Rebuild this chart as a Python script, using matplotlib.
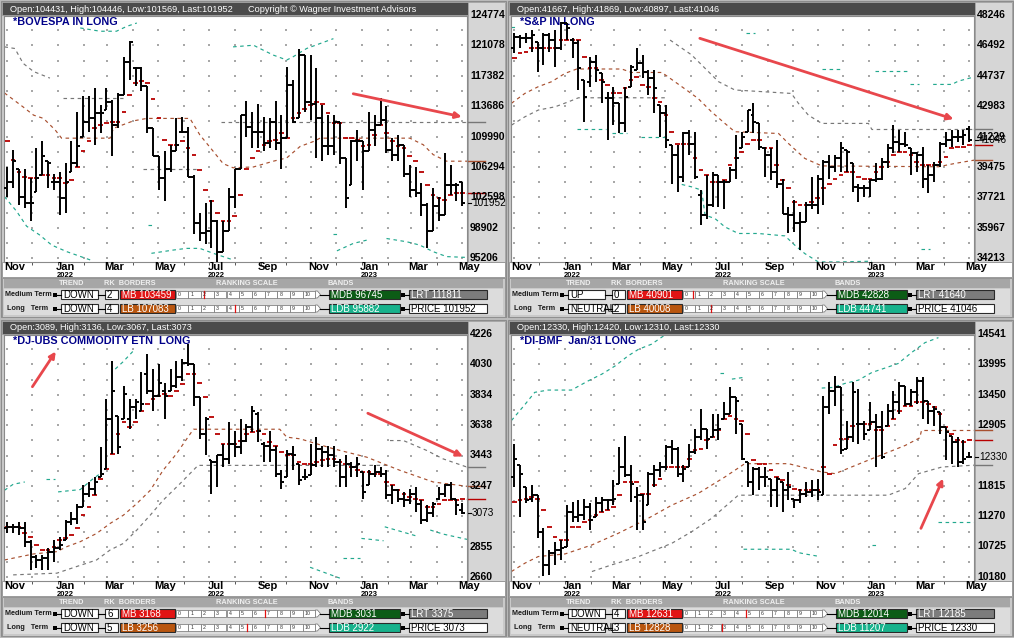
import numpy as np
import pandas as pd
import matplotlib
matplotlib.use("Agg")
import matplotlib.pyplot as plt
import matplotlib.transforms as mtransforms
from matplotlib.patches import Rectangle, Polygon

# semanas: nov/2021 ate mai/2023 (79 barras semanais)
start_week = "2021-11-01"
n_weeks = 79

# ---------------- BOVESPA ----------------
bov_open = [103700,104500,106100,102700,101900,103300,105300,107000,104500,104500,
    102500,105700,106800,110000,111800,112200,112800,113200,114200,111400,
    115100,119100,118300,118300,116100,111000,107600,104900,106100,108200,
    110600,110600,105100,99500,98300,98500,99700,96000,98500,102700,
    106100,112600,111200,110600,110600,109200,111800,109200,109800,116300,
    112200,119900,114200,114000,112200,108800,108800,111800,107400,104100,
    109400,109400,108200,110800,111400,112000,108400,107800,109000,105500,
    103500,103100,101700,98500,101500,100500,104100,104100,104431]
bov_high = [106300,108400,106100,106100,104900,108600,109400,107000,105500,105700,
    106800,109400,113000,114900,114900,115900,113800,115900,114400,115300,
    119700,121600,118500,118500,116100,111000,107600,108200,109000,112200,
    112400,111200,105300,100700,101900,102300,99900,99700,103700,106100,
    112600,114300,113000,114000,112400,112200,114300,112600,118500,116900,
    120700,119900,119900,118300,113800,112600,112600,111800,107400,109600,
    110800,109400,113000,112600,114700,113700,109800,110200,109000,106500,
    106300,104300,101900,103700,102700,108000,106500,104300,104446]
bov_low = [102700,103700,101700,101300,99700,103300,105300,103700,103500,100500,
    100700,105700,106300,110000,110600,109000,110400,113200,107600,111000,
    115100,116900,116100,115500,110400,107600,103500,102100,105700,108200,
    110400,105100,98100,97300,96900,96500,94800,96000,98500,101300,
    106100,110000,108600,108600,108200,108600,108400,106000,109800,111600,
    112200,113000,112000,107400,107000,107800,107800,106600,101300,104100,
    107000,103500,108200,108800,111400,108000,107000,107000,105100,102700,
    102700,100300,96400,98500,99700,100500,102900,102100,101569]
bov_close = [104500,107000,102700,101900,101900,104900,107600,106800,104500,102500,
    104500,106800,108800,111800,112200,112800,112800,114200,111400,115100,
    119100,121500,118300,116100,111000,107600,104900,106100,108200,109000,
    110600,105100,99500,98300,98500,99700,96000,98500,102700,106100,
    112600,111200,110600,110600,109200,111800,109200,109800,116300,111800,
    119900,114200,114000,112200,108800,108800,111800,107400,102500,109400,
    109400,108200,110800,111400,112000,108400,107800,109000,105500,103500,
    103100,101700,98500,101500,100500,104100,104100,104100,101952]
bov_ma = [109400,107200,105700,105100,104900,104900,105300,105300,104900,104900,
    104300,104700,106300,108200,109400,111000,111400,111600,111800,111800,
    113000,115100,116500,116700,116500,114600,112200,109600,109000,109000,
    109400,108600,107800,105900,103500,102100,100700,99700,99700,100300,
    102900,106100,107400,108200,109000,109400,109600,110400,109800,112200,
    112800,113400,113800,114200,114000,112800,111600,111600,109800,109800,
    109600,108800,109000,110200,111400,110400,109400,108800,108600,107600,
    107000,105700,104100,102900,102500,102300,102900,103100,103100]
bov_brown = [([-0.5, 2.7, 4.5, 6.2, 8.2, 9.3, 17.6, 18.2, 21.6, 23.9, 31.3, 33.0, 35.3,
               37.0, 38.7, 42.2, 45.6, 47.9, 50.2, 52.5, 53.6, 69.0, 71.3, 73.0, 75.3, 78.8],
              [115300, 113600, 112600, 112200, 110800, 109800, 109800, 111000, 111900, 112200,
               112200, 110200, 108200, 106700, 106200, 106300, 107000, 107400, 108800, 109400,
               109800, 109800, 109000, 107800, 107000, 107000])]
bov_gray = [([-0.5, 1.3, 2.7, 4.5, 7.3], [120900, 120700, 118900, 117900, 117100]),
            ([9.6, 19.9], [114700, 114700]),
            ([23.3, 32.5], [106100, 106100]),
            ([36.7, 78.8], [111811, 111811])]
bov_cyan = [([12.5, 15.9, 18.7, 20.5, 22.2], [123200, 122800, 122800, 123400, 123800]),
            ([38.7, 42.2, 43.3, 45.6, 47.9, 49.0, 51.3, 53.6, 55.9],
             [120900, 121100, 120700, 119900, 119300, 119700, 120700, 121300, 121900]),
            ([-0.5, 1.6, 3.3, 5.6, 7.6, 10.2, 14.2], [102700, 100900, 99100, 98000, 96800, 96000, 95000]),
            ([24.2, 25.2], [99300, 99300]),
            ([24.7, 28.5, 30.7, 33.0, 35.3, 38.7], [95800, 96200, 96400, 96400, 95800, 95000]),
            ([55.8, 56.8], [98100, 98100]),
            ([56.5, 59.3, 61.6], [96100, 97000, 97400]),
            ([65.0, 68.5, 70.7, 73.0, 75.3, 78.8], [97600, 97200, 96800, 96000, 95400, 95300])]
bov_arrows = [([59.3, 77.9], [115200, 112400])]
bov_yticks = [124774, 121078, 117382, 113686, 109990, 106294, 102598, 98902, 95206]
bov_info = dict(trend=("DOWN", "DOWN"), rank=("2", "4"), border=("MB 103459", "LB 107083"),
                scale=(2.23, 4.67), bands=("MDB 96745", "LDB 95882"), last=("LRT 111811", "PRICE 101952"))

# ---------------- S&P ----------------
spx_open = [46320,46990,46900,46940,46710,46320,47090,46800,46320,47760,
    46800,46610,44490,44400,45550,44880,43430,43430,43150,41990,
    44110,45070,45450,44970,44590,43050,42570,40740,40160,38910,
    41410,40830,37850,36700,37270,39010,38620,38620,39300,40550,
    41510,42470,41990,40550,40160,39200,38520,36790,36700,36220,
    36310,37270,37270,38810,39780,39490,39970,40450,39680,38330,
    38240,38240,38720,38810,39780,40550,40930,40830,40550,40260,
    40160,38810,39010,39580,40830,41030,41220,41220,41667]
spx_high = [47190,47090,47190,47380,46710,47190,47190,47380,47860,47760,
    46900,46800,44490,45840,45940,44880,43820,44110,43150,44110,
    45360,46320,45940,45070,45070,43050,43050,40740,40740,41510,
    41600,41510,38140,39010,39200,39010,38720,39480,41320,41510,
    42760,43150,41990,40640,40550,41030,38810,37180,37560,36890,
    37470,38910,39010,39870,40160,40160,40930,40450,39680,38520,
    38430,38810,39680,39970,40830,41890,41600,41510,40550,40350,
    40640,39580,39780,40930,41510,41600,41600,41600,41869]
spx_low = [46030,46320,46610,46130,44970,45360,46130,45260,46220,46800,
    45740,43920,42090,44110,44400,43150,41030,41890,41410,41510,
    44110,45070,44590,43630,42570,41220,40550,38520,38040,38620,
    40160,38810,36120,36500,37180,37180,37080,38620,38810,40550,
    41510,41410,40450,38910,38720,38240,36790,35640,35730,34670,
    36310,37080,36790,37270,38810,39200,39200,39200,38040,37470,
    37750,37750,38620,38720,39390,40260,40350,40640,39010,39200,
    38240,37950,38620,39490,40640,40640,40930,40740,40897]
spx_close = [46990,46900,46940,47090,46320,47090,46800,46320,47760,47480,
    46610,45170,43530,45550,45070,44400,43430,43150,41990,43530,
    45260,45450,44970,44590,44010,42570,41030,40160,38910,41410,
    40830,38910,36700,37270,39010,38620,38620,39300,39970,41220,
    42760,42090,40640,40160,39200,38520,36790,36700,36220,36310,
    37270,37270,38810,39780,39490,39970,40550,40350,38330,38240,
    38240,38720,38810,39780,40550,40930,40830,40740,40260,40160,
    38810,39010,39580,40830,41030,41220,41220,41320,41046]
spx_ma = [45740,46030,46130,46320,46320,46320,46320,46320,46800,46800,
    46800,46800,45840,45170,45170,44490,44200,43720,43720,44010,
    44490,44680,44200,44110,43430,43240,42470,41510,40830,40830,
    40830,39970,39300,39010,38620,38620,38720,39580,39970,40350,
    40830,41030,41030,40550,40550,39580,38720,38240,37470,37270,
    37270,37470,37660,38240,38520,38810,39010,39200,39200,38910,
    38810,38810,39200,39490,39780,40160,40350,40350,40160,39780,
    39580,39580,39580,39780,40060,40550,40640,40640,40740]
spx_brown = [([-0.5, 1.8, 4.1, 6.4, 8.7, 10.7, 18.4, 20.1, 25.3, 27.5, 29.5, 31.5, 33.8, 36.1,
               37.8, 45.3, 47.0, 49.8, 52.7, 72.7, 75.5, 78.8],
              [43150, 43720, 44110, 44400, 44880, 45130, 45130, 44930, 44930, 44400, 43920,
               43430, 42660, 41990, 41510, 41410, 40830, 39970, 39540, 39490, 39680, 39870])]
spx_gray = [([-0.5, 1.8, 4.1, 7.0, 9.3, 11.0, 25.8], [41890, 42370, 42760, 42950, 43240, 43470, 43470]),
            ([26.7, 30.4, 32.7, 35.0, 37.8, 47.5, 48.7, 50.4, 52.7, 60.7, 61.3, 78.8],
             [46800, 45940, 45170, 44400, 43920, 43720, 43150, 42470, 41990, 41990, 41640, 41640])]
spx_cyan = [([-0.5, 0.3], [47570, 47570]),
            ([39.8, 41.3], [47190, 47190]),
            ([52.7, 56.1], [45130, 45130]),
            ([61.8, 67.5], [45010, 45010]),
            ([67.8, 69.3], [44240, 44240]),
            ([71.8, 75.0, 76.1, 78.8], [44240, 44240, 44430, 44670]),
            ([10.7, 15.8], [41660, 41660]),
            ([16.7, 19.3], [41410, 41410]),
            ([21.8, 25.8], [41220, 41220]),
            ([28.7, 30.4, 32.1, 32.7, 34.4, 36.1, 38.4, 41.8, 46.4, 48.1, 49.8, 52.1, 55.5, 61.3],
             [38470, 38330, 38140, 36700, 36500, 36020, 35640, 35640, 35500, 34960, 34480, 34000, 34000, 34040]),
            ([69.8, 71.3], [34730, 34730])]
spx_arrows = [([31.8, 75.3], [46900, 42240])]
spx_yticks = [48246, 46492, 44737, 42983, 41229, 39475, 37721, 35967, 34213]
spx_info = dict(trend=("UP", "NEUTRAL"), rank=("0", "2"), border=("MB 40901", "LB 40008"),
                scale=(0.83, 2.2), bands=("MDB 42828", "LDB 44741"), last=("LRT 41640", "PRICE 41046"))

# ---------------- DJ-UBS ----------------
dj_open = [2972,2983,2983,2972,2887,2790,2769,2780,2823,2844,
    2897,3015,3036,3111,3197,3229,3304,3357,3678,3700,
    3678,3678,3753,3732,3967,3860,3828,3860,3860,3892,
    3946,4042,4031,3817,3582,3411,3400,3443,3421,3518,
    3496,3539,3625,3711,3520,3507,3475,3325,3304,3454,
    3389,3304,3315,3379,3486,3464,3443,3400,3304,3389,
    3368,3336,3250,3325,3336,3325,3186,3218,3165,3154,
    3197,3133,3026,3069,3160,3197,3250,3165,3089]
dj_high = [3015,3004,3015,3015,2897,2801,2801,2844,2897,2919,
    3026,3079,3133,3250,3272,3304,3496,3806,4052,3700,
    3892,3806,3806,3978,4095,3999,4031,3913,3999,4052,
    4063,4159,4031,3817,3689,3411,3443,3518,3657,3603,
    3678,3646,3764,3721,3528,3603,3507,3347,3475,3507,
    3389,3357,3518,3561,3507,3507,3507,3421,3443,3400,
    3432,3336,3347,3379,3368,3347,3250,3229,3208,3229,
    3240,3154,3122,3143,3240,3261,3272,3165,3136]
dj_low = [2940,2940,2929,2855,2705,2716,2705,2705,2758,2833,
    2897,2994,3004,3111,3175,3186,3304,3357,3454,3454,
    3678,3614,3678,3732,3839,3732,3817,3678,3860,3881,
    3924,4020,3764,3550,3443,3197,3240,3368,3389,3432,
    3454,3528,3593,3528,3400,3400,3304,3229,3304,3347,
    3250,3282,3315,3368,3368,3368,3368,3240,3240,3304,
    3304,3165,3250,3304,3304,3165,3133,3143,3111,3133,
    3079,3004,3015,3047,3154,3175,3154,3058,3067]
dj_close = [2983,2983,2972,2887,2790,2769,2780,2823,2844,2865,
    3015,3036,3111,3197,3229,3272,3325,3678,3860,3496,
    3839,3753,3785,3774,3860,3828,3913,3828,3892,3946,
    4042,4031,3817,3582,3678,3400,3443,3421,3518,3496,
    3539,3625,3732,3603,3507,3475,3325,3272,3454,3443,
    3282,3304,3379,3486,3464,3443,3400,3304,3389,3368,
    3389,3208,3325,3336,3325,3186,3218,3165,3154,3197,
    3133,3026,3069,3133,3197,3250,3165,3122,3073]
dj_ma = [2983,2983,2983,2940,2919,2865,2833,2833,2855,2897,
    2908,2929,2972,3058,3111,3186,3293,3357,3454,3582,
    3657,3625,3657,3732,3774,3806,3828,3839,3828,3860,
    3903,3967,3967,3913,3817,3689,3582,3518,3518,3518,
    3539,3582,3593,3603,3582,3528,3507,3464,3443,3443,
    3400,3389,3389,3400,3411,3421,3421,3400,3389,3368,
    3347,3336,3336,3325,3325,3272,3250,3218,3197,3175,
    3165,3154,3111,3111,3133,3154,3154,3154,3165]
dj_brown = [([-0.5, 4.5, 8.5, 10.2, 12.5, 15.3, 17.6, 19.9, 22.2, 24.5, 26.7, 29.0, 31.9,
              46.7, 47.9, 50.2, 55.9, 61.6, 67.3, 73.0, 78.8],
             [2769, 2808, 2823, 2855, 2887, 2940, 3004, 3058, 3133, 3218, 3347, 3454, 3612,
              3612, 3561, 3550, 3486, 3432, 3347, 3272, 3244])]
dj_gray = [([1.0, 8.5, 11.9, 15.3, 17.6, 19.9, 22.2, 24.5, 26.7, 29.6, 32.7, 65.6],
            [2673, 2684, 2727, 2769, 2833, 2876, 2962, 3058, 3154, 3261, 3379, 3379]),
           ([65.6, 67.9, 71.9, 74.7, 78.8], [3539, 3539, 3475, 3421, 3368])]
dj_cyan = [([-0.5, 1.0, 3.0], [3218, 3257, 3272]),
           ([6.7, 8.2], [3293, 3293]),
           ([8.7, 12.5, 14.7, 15.9], [3208, 3223, 3293, 3325]),
           ([18.5, 19.9, 21.6], [4000, 4049, 4117]),
           ([51.9, 57.0], [2722, 2652]),
           ([57.6, 60.5], [2780, 2780]),
           ([60.7, 64.5], [2908, 2893]),
           ([64.7, 70.2], [2983, 2923]),
           ([72.5, 74.7, 78.8], [2962, 2936, 2902])]
dj_arrows = [([4.3, 8.3], [3886, 4113]), ([61.8, 78.1], [3715, 3437])]
dj_yticks = [4226, 4030, 3834, 3638, 3443, 3247, 2855, 2660]
dj_info = dict(trend=("DOWN", "DOWN"), rank=("6", "5"), border=("MB 3168", "LB 3256"),
               scale=(7.03, 5.59), bands=("MDB 3031", "LDB 2922"), last=("LRT 3375", "PRICE 3073"))

# ---------------- DI-BMF ----------------
di_open = [11973,12182,11795,11586,11646,10990,10395,10603,10663,10722,
    11348,11259,11288,11437,11259,11497,11556,11556,11854,12152,
    12003,11616,11646,11467,12033,12093,12152,12510,12480,12033,
    12152,12420,12688,12837,12688,12808,13016,13105,13403,12927,
    12242,11884,12122,11973,11944,11735,11884,11735,11586,11556,
    11676,11705,11735,11646,13225,13523,13582,12480,12688,12927,
    12927,12808,12957,12867,12897,13165,13314,13612,13284,13493,
    13701,13344,13165,13135,12867,12718,12599,12242,12330]
di_high = [12569,12182,11795,11825,11646,11050,10663,10812,10841,11467,
    11527,11556,11586,11497,11616,11616,11586,11914,12510,12718,
    12182,11795,11676,12063,12182,12242,12539,12629,12510,12182,
    12569,12837,13195,12837,13105,13105,13314,13582,13403,12927,
    12242,12152,12152,12152,11944,11973,11884,12063,11586,11765,
    11884,11914,11944,13433,13672,13791,13582,12986,13672,13552,
    12986,13314,13105,13165,13284,13523,13672,13612,13552,13761,
    13761,13344,13254,13135,12867,12718,12688,12629,12420]
di_low = [11795,11259,11497,11527,10871,10186,10216,10395,10484,10722,
    11169,11169,11199,11020,11259,11348,11378,11467,11854,11973,
    11527,11020,11020,11467,11795,11973,12093,12212,11973,11884,
    12152,12391,12629,12480,12688,12629,13016,13105,12748,12271,
    11795,11646,11735,11795,11437,11437,11348,11556,11407,11497,
    11616,11616,11556,11646,13105,13254,12391,12480,12599,12569,
    12629,12808,12152,12301,12897,13016,13105,13254,13254,13284,
    13016,12927,12897,12748,12271,12212,12152,12212,12310]
di_close = [12301,12033,11556,11646,10990,10395,10603,10663,10693,11348,
    11259,11288,11437,11199,11497,11556,11556,11586,12152,12003,
    11854,11646,11169,12033,12093,12152,12510,12480,12033,12122,
    12420,12688,12837,12659,12808,12837,13105,13403,13344,12301,
    11884,12122,11973,11973,11735,11944,11735,11795,11556,11676,
    11705,11735,11705,13225,13523,13582,12450,12688,13493,12927,
    12748,12957,12867,12331,13165,13314,13612,13284,13493,13701,
    13344,13165,13195,12867,12778,12599,12242,12301,12330]
di_ma = [11527,11556,11586,11616,11586,11378,11080,10901,10841,10841,
    11080,11080,11169,11199,11288,11348,11378,11437,11646,11884,
    11884,11884,11676,11676,11825,11944,12152,12152,12152,12152,
    12301,12450,12480,12629,12688,12808,13016,13076,13016,12986,
    12748,12271,12212,12212,12093,11973,11914,11825,11765,11735,
    11735,11735,11735,12152,12033,12539,12659,12659,12897,12927,
    12927,12927,12808,12808,12897,13016,13165,13254,13254,13314,
    13314,13284,13225,13105,12867,12748,12629,12599,12629]
di_brown = [([-0.5, 1.8, 4.1, 8.7, 13.3, 17.8, 22.4, 27.0, 31.5, 36.1, 39.5, 47.0, 52.7, 55.0,
              61.3, 67.0, 69.5, 69.8, 78.8],
             [10275, 10424, 10544, 10591, 10752, 10961, 11199, 11467, 11676, 11973, 12212, 12212,
              12063, 12033, 12301, 12539, 12676, 12808, 12808])]
di_gray = [([13.3, 16.7, 21.3, 27.0, 30.4, 33.8, 36.1, 38.4, 64.1, 67.0, 69.3, 73.3, 78.8],
            [10275, 10395, 10544, 10782, 10990, 11229, 11437, 11646, 11646, 11765, 12033, 12152, 12185])]
di_cyan = [([-0.5, 0.7, 1.8, 3.5, 5.8, 9.8, 12.7, 15.0, 17.3, 19.5, 21.3, 23.5, 26.4],
            [12986, 13135, 13272, 13493, 13534, 13534, 13701, 13820, 13969, 14148, 14267, 14357, 14565]),
           ([35.3, 36.3], [13832, 13832]),
           ([37.3, 39.3], [13731, 13761]),
           ([52.7, 54.7, 56.7, 59.0, 61.3, 63.5, 65.8, 68.1, 70.4, 72.7],
            [13570, 13582, 13654, 13713, 13850, 13928, 14011, 14208, 14386, 14476]),
           ([39.3, 47.5, 48.7, 49.8, 52.4], [10675, 10675, 10615, 10591, 10544]),
           ([61.3, 62.3], [10752, 10752]),
           ([72.7, 78.8], [11157, 11157])]
di_arrows = [([69.7, 73.5], [11050, 11944])]
di_yticks = [14541, 13995, 13450, 12905, 11815, 11270, 10725, 10180]
di_info = dict(trend=("DOWN", "NEUTRAL"), rank=("4", "3"), border=("MB 12631", "LB 12828"),
               scale=(4.96, 3.07), bands=("MDB 12014", "LDB 11207"), last=("LRT 12185", "PRICE 12330"))

panels = [
    dict(ox=0, oy=0, title="*BOVESPA IN LONG", header="Open:104431, High:104446, Low:101569, Last:101952",
         o=bov_open, h=bov_high, l=bov_low, c=bov_close, ma=bov_ma, brown=bov_brown, gray=bov_gray,
         cyan=bov_cyan, arrows=bov_arrows, yticks=bov_yticks, info=bov_info),
    dict(ox=507, oy=0, title="*S&P IN LONG", header="Open:41667, High:41869, Low:40897, Last:41046",
         o=spx_open, h=spx_high, l=spx_low, c=spx_close, ma=spx_ma, brown=spx_brown, gray=spx_gray,
         cyan=spx_cyan, arrows=spx_arrows, yticks=spx_yticks, info=spx_info),
    dict(ox=0, oy=319, title="*DJ-UBS COMMODITY ETN  LONG", header="Open:3089, High:3136, Low:3067, Last:3073",
         o=dj_open, h=dj_high, l=dj_low, c=dj_close, ma=dj_ma, brown=dj_brown, gray=dj_gray,
         cyan=dj_cyan, arrows=dj_arrows, yticks=dj_yticks, info=dj_info),
    dict(ox=507, oy=319, title="*DI-BMF  Jan/31 LONG", header="Open:12330, High:12420, Low:12310, Last:12330",
         o=di_open, h=di_high, l=di_low, c=di_close, ma=di_ma, brown=di_brown, gray=di_gray,
         cyan=di_cyan, arrows=di_arrows, yticks=di_yticks, info=di_info),
]

plt.rcParams['font.family'] = ['Liberation Sans', 'DejaVu Sans']

W, H = 1014, 638
fig = plt.figure(figsize=(W / 100, H / 100), dpi=100)
fig.patch.set_facecolor('#bdbdbd')

# eixo de fundo em pixels (y para baixo) para moldura e paineis de info
bg = fig.add_axes([0, 0, 1, 1], zorder=0)
bg.set_xlim(0, W)
bg.set_ylim(H, 0)
bg.axis('off')

weeks = pd.date_range(start_week, periods=n_weeks, freq="7D")
months = pd.date_range("2021-11-01", "2023-05-01", freq="MS")
month_pos = np.array([(m - weeks[0]).days / 7 for m in months])

BROWN = '#a85030'
GRAY = '#777777'
CYAN = '#22a88e'
RED = '#b80000'
DASH = (0, (3, 3))


def box(x, y, w, h, fc, text, tc='black', fs=7):
    r = Rectangle((x, y), w, h, fc=fc, ec='#2a2a2a', lw=0.8)
    bg.add_patch(r)
    t = bg.text(x + 2, y + h / 2 + 0.4, text, color=tc, fontsize=fs, va='center', ha='left')
    t.set_clip_path(r)


def info_panel(ox, oy, inf):
    bg.add_patch(Rectangle((ox + 2, oy + 278), 503, 39, fc='#c9c9c9', ec='#8c8c8c', lw=0.6))
    bg.add_patch(Rectangle((ox + 4, oy + 279), 499, 9, fc='#a6a6a6', lw=0))
    for txt, xc in [("TREND", 72), ("RK  BORDERS", 130), ("RANKING SCALE", 247), ("BANDS", 341)]:
        bg.text(ox + xc, oy + 283.8, txt, color='#efefef', fontsize=5.3, weight='bold',
                ha='center', va='center')
    bg.add_patch(Rectangle((ox + 4, oy + 289), 499, 26, fc='#dcdcdc', lw=0))
    names = ["Medium Term", "Long   Term"]
    border_cols = ['#e11414', '#b9560f']
    band_cols = ['#0c5c16', '#18b28c']
    last_cols = [('#7c7c7c', 'white'), ('white', 'black')]
    for r in range(2):
        yc = oy + 294.5 + 14 * r
        bg.text(ox + 28, yc + 0.3, names[r], fontsize=5.2, weight='bold', ha='center',
                va='center', color='#1a1a1a')
        bg.add_patch(Rectangle((ox + 53, yc - 2), 4, 4, fc='black', lw=0))
        bg.plot([ox + 57, ox + 61], [yc, yc], color='black', lw=0.8)
        box(ox + 61, yc - 4.5, 37, 9, 'white', inf['trend'][r])
        bg.plot([ox + 98, ox + 105], [yc, yc], color='black', lw=0.8)
        box(ox + 105, yc - 4.5, 13, 9, 'white', inf['rank'][r])
        box(ox + 120, yc - 4.5, 55, 9, border_cols[r], inf['border'][r], tc='white')
        for k in range(11):
            x0 = ox + 175.7 + 12.7 * k
            bg.add_patch(Rectangle((x0, yc - 3.5), 12.7, 7, fc='white', ec='#707070', lw=0.5))
            bg.text(x0 + 2, yc + 0.2, str(k), fontsize=3.8, va='center', color='#333333')
        xe = ox + 175.7 + 12.7 * 11
        bg.add_patch(Polygon([(xe, yc - 3.5), (xe + 2, yc - 3.5), (xe + 5, yc), (xe + 2, yc + 3.5),
                              (xe, yc + 3.5)], closed=True, fc='white', ec='#707070', lw=0.5))
        bg.plot([xe + 5, ox + 329], [yc, yc], color='black', lw=0.8)
        xm = ox + 175.7 + 12.7 * inf['scale'][r]
        bg.plot([xm, xm], [yc - 3.5, yc + 3.5], color='#e01010', lw=0.9)
        box(ox + 329, yc - 4.5, 71, 9, band_cols[r], inf['bands'][r], tc='white')
        bg.add_patch(Rectangle((ox + 401, yc - 2), 4, 4, fc='black', lw=0))
        bg.plot([ox + 405, ox + 409], [yc, yc], color='black', lw=0.8)
        box(ox + 409, yc - 4.5, 78, 9, last_cols[r][0], inf['last'][r], tc=last_cols[r][1])


def draw_panel(p):
    ox, oy = p['ox'], p['oy']
    # moldura
    bg.add_patch(Rectangle((ox + 1, oy + 1), 505, 316, fc='#cbcbcb', ec='#8c8c8c', lw=0.8))
    bg.add_patch(Rectangle((ox + 2, oy + 2), 466, 13, fc='#4b4b4b', ec='#a0a0a0', lw=0.6))
    bg.text(ox + 10, oy + 9, p['header'], color='white', fontsize=6.6, va='center')
    if ox == 0 and oy == 0:
        bg.text(ox + 248, oy + 9, "Copyright \u00a9 Wagner Investment Advisors", color='white',
                fontsize=6.6, va='center')
    bg.add_patch(Rectangle((ox + 468, oy + 2), 37, 260, fc='#d6d6d6', ec='#a0a0a0', lw=0.6))
    bg.add_patch(Rectangle((ox + 2, oy + 262), 503, 15, fc='white', ec='#909090', lw=0.6))
    info_panel(ox, oy, p['info'])

    ax = fig.add_axes([(ox + 4) / W, 1 - (oy + 262) / H, 463 / W, 246 / H], zorder=2)
    n = min(len(p['o']), len(p['h']), len(p['l']), len(p['c']))
    x = np.arange(n)
    o, h, l, c = [np.array(p[k][:n]) for k in ('o', 'h', 'l', 'c')]
    ma = np.array(p['ma'][:n])
    top = p['yticks'][0]
    step = p['yticks'][0] - p['yticks'][1]
    ax.set_xlim(-0.57, 78.8)
    ax.set_ylim(top - step * 247 / 30.4, top - step / 30.4)

    # grade pontilhada
    gy = top - step / 2 * np.arange(1, 18)
    GX, GY = np.meshgrid(month_pos, gy)
    ax.scatter(GX.ravel(), GY.ravel(), s=1.2, marker='s', color='#a8a8a8', linewidths=0, zorder=1)

    # bandas
    for xs, ys in p['cyan']:
        ax.plot(xs, ys, color=CYAN, lw=0.85, ls=DASH, zorder=2)
    for xs, ys in p['gray']:
        ax.plot(xs, ys, color=GRAY, lw=0.85, ls=DASH, zorder=2)
    for xs, ys in p['brown']:
        ax.plot(xs, ys, color=BROWN, lw=0.85, ls=DASH, zorder=2)

    ax.text(0.02, 0.995, p['title'], transform=ax.transAxes, color='#000088', fontsize=7.8,
            weight='bold', va='top', ha='left', zorder=2.5)

    # media (tracos vermelhos) e barras OHLC
    ax.hlines(ma, x - 0.4, x + 0.4, color=RED, lw=1.3, zorder=3)
    ax.vlines(x, l, h, color='black', lw=1.4, zorder=4)
    ax.hlines(o, x - 0.5, x, color='black', lw=1.4, zorder=4)
    ax.hlines(c, x, x + 0.5, color='black', lw=1.4, zorder=4)

    for xs, ys in p['arrows']:
        ax.annotate('', xy=(xs[1], ys[1]), xytext=(xs[0], ys[0]),
                    arrowprops=dict(arrowstyle='-|>', color='#e8474c', lw=2.0, mutation_scale=9,
                                    shrinkA=0, shrinkB=0), zorder=5)

    # marcas que entram na escala da direita
    xe = [78.8, 81.8]
    ax.plot(xe, [p['gray'][-1][1][-1]] * 2, color=GRAY, lw=1.0, clip_on=False, zorder=2)
    ax.plot(xe, [p['brown'][-1][1][-1]] * 2, color=BROWN, lw=1.0, clip_on=False, zorder=2)
    ax.plot(xe, [ma[-1]] * 2, color=RED, lw=1.0, clip_on=False, zorder=2)

    ytr = mtransforms.blended_transform_factory(ax.transAxes, ax.transData)
    for v in p['yticks']:
        ax.text(1 + 3 / 463, v, str(v), transform=ytr, ha='left', va='center', fontsize=7.5,
                weight='bold', clip_on=False, zorder=6)
    last = c[-1]
    ax.plot([1.0, 1 + 4 / 463], [last, last], transform=ytr, color='black', lw=0.8, clip_on=False)
    ax.text(1 + 5 / 463, last, str(int(last)), transform=ytr, ha='left', va='center', fontsize=7.2,
            clip_on=False, zorder=7)

    xtr = mtransforms.blended_transform_factory(ax.transData, ax.transAxes)
    for m, pos in zip(months, month_pos):
        if m.month % 2 == 1:
            ax.text(pos + 1.2, -0.022, m.strftime('%b'), transform=xtr, ha='center', va='center',
                    fontsize=8, weight='bold', clip_on=False)
        if m.month in (1, 7):
            ax.text(pos + 1.2, -0.056, str(m.year), transform=xtr, ha='center', va='center',
                    fontsize=5.5, weight='bold', clip_on=False)

    ax.set_xticks(month_pos)
    ax.set_yticks([])
    ax.tick_params(axis='x', length=2.5, width=0.7, color='#555555', labelbottom=False, direction='out')
    for s in ax.spines.values():
        s.set_color('#8a8a8a')
        s.set_linewidth(0.8)


for p in panels:
    draw_panel(p)

plt.savefig("out.png", dpi=100)
